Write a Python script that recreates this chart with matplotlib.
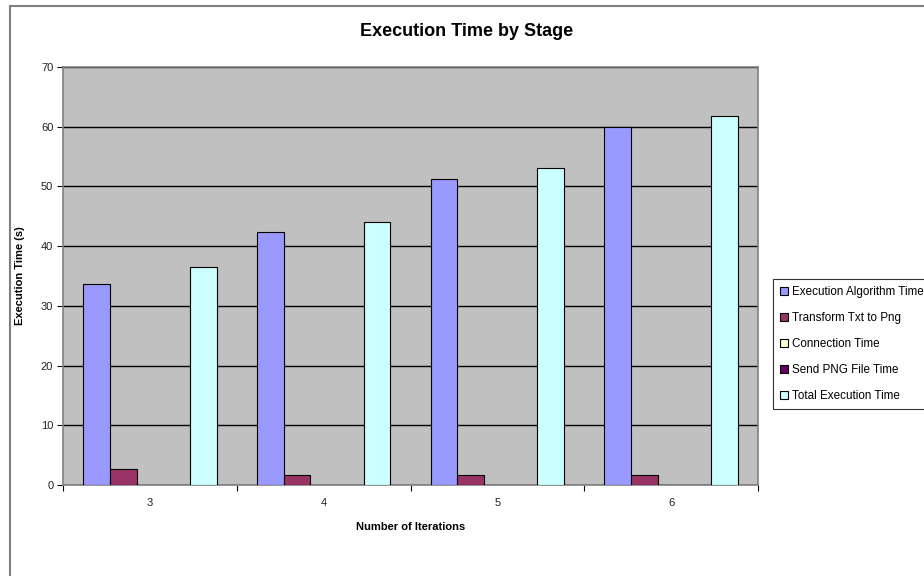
import numpy as np
from matplotlib import pyplot as plt
from matplotlib.patches import Rectangle

plt.rcParams["font.family"] = ["Liberation Sans", "DejaVu Sans"]

iterations = ["3", "4", "5", "6"]
series_names = [
    "Execution Algorithm Time",
    "Transform Txt to Png",
    "Connection Time",
    "Send PNG File Time",
    "Total Execution Time",
]
exec_algorithm = [33.7, 42.3, 51.2, 60.0]
transform_txt = [2.6, 1.6, 1.6, 1.6]
connection = [0.0, 0.0, 0.0, 0.0]
send_png = [0.0, 0.0, 0.0, 0.0]
total_exec = [36.5, 44.1, 53.1, 61.8]
series_values = [exec_algorithm, transform_txt, connection, send_png, total_exec]
colors = ["#9999FF", "#993366", "#FFFFCC", "#660066", "#CCFFFF"]

W, H = 924, 576
fig = plt.figure(figsize=(W / 100, H / 100), dpi=100)
ax = fig.add_axes([63 / W, 1 - 485 / H, (758 - 63) / W, (485 - 67) / H])
ax.set_facecolor("#C0C0C0")

x = np.arange(len(iterations))
width = 1 / (len(series_names) + 1.5)
for i, (name, vals, col) in enumerate(zip(series_names, series_values, colors)):
    offset = (i - (len(series_names) - 1) / 2) * width
    ax.bar(x + offset, vals, width=width, color=col, edgecolor="black",
           linewidth=0.8, label=name, zorder=3)

ax.set_ylim(0, 70)
ax.set_yticks(np.arange(0, 71, 10))
ax.set_xlim(-0.5, len(iterations) - 0.5)
ax.set_xticks(np.arange(-0.5, len(iterations), 1.0))
ax.set_xticklabels([])
ax.set_xticks(x, minor=True)
ax.set_xticklabels(iterations, minor=True)
ax.tick_params(axis="x", which="minor", length=0, pad=9, labelsize=8, labelcolor="#222222")
ax.tick_params(axis="x", which="major", length=4, direction="out", color="black")
ax.tick_params(axis="y", length=4, direction="out", color="black", pad=3,
               labelsize=8, labelcolor="#222222")
ax.grid(axis="y", color="black", linewidth=1, zorder=1)
for s in ax.spines.values():
    s.set_color("#808080")
    s.set_linewidth(1.2)

ax.set_xlabel("Number of Iterations", fontsize=8, fontweight="bold")
ax.xaxis.set_label_coords(0.5, -(527 - 485) / (485 - 67))
ax.set_ylabel("Execution Time (s)", fontsize=8, fontweight="bold")
ax.yaxis.set_label_coords(-(63 - 20) / (758 - 63), 0.5)
ax.yaxis.label.set_va("center")
ax.xaxis.label.set_va("center")
fig.text(467 / W, 1 - 32 / H, "Execution Time by Stage", ha="center", va="center",
         fontsize=13, fontweight="bold")

leg = fig.legend(loc="upper left", bbox_to_anchor=(773 / W, 1 - 279 / H),
                 fontsize=8.4, frameon=True, fancybox=False, edgecolor="black",
                 handlelength=0.7, handleheight=0.7, handletextpad=0.35,
                 labelspacing=1.2, borderpad=0.6, borderaxespad=0)
leg.get_frame().set_linewidth(0.8)
for h in leg.legend_handles:
    h.set_linewidth(0.8)

fig.add_artist(Rectangle((9.5 / W, -0.1), 1.2, 1.1 - 5.5 / H, transform=fig.transFigure,
                         fill=False, edgecolor="#808080", linewidth=1.5))

fig.savefig("out.png", dpi=100)
plt.close(fig)
